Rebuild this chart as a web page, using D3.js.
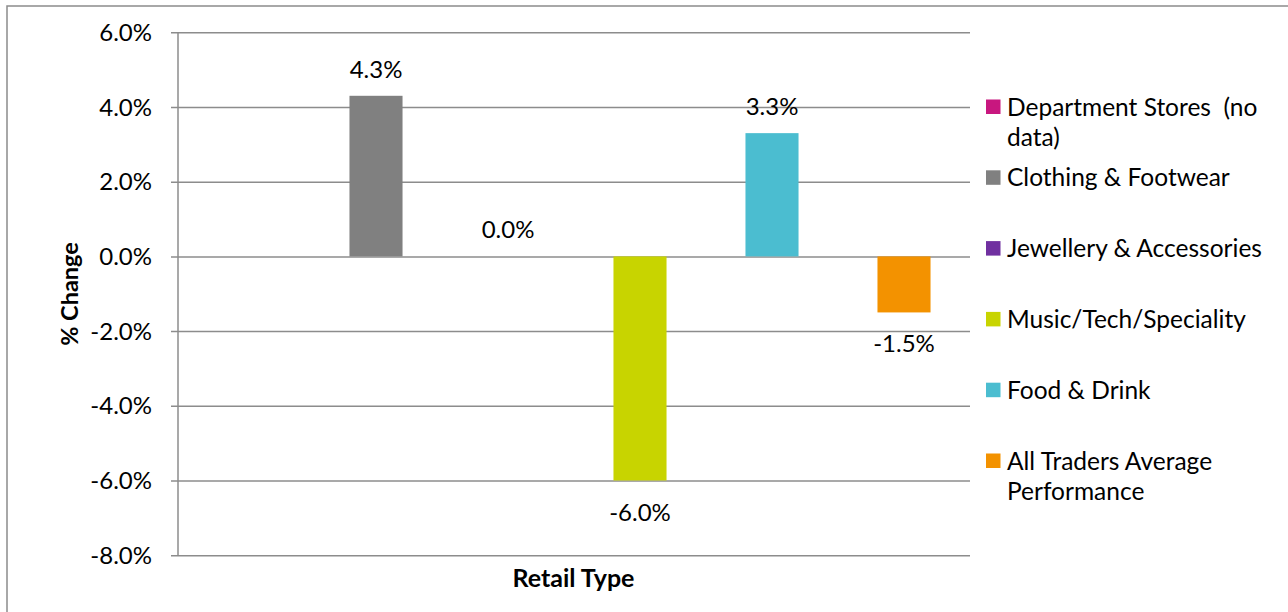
<!DOCTYPE html>
<html>
<head>
<meta charset="utf-8">
<script src="https://cdn.jsdelivr.net/npm/d3@7"></script>
<style>
  html, body { margin: 0; padding: 0; background: #fff; }
  svg { display: block; }
  text { font-family: Lato, "Liberation Sans", sans-serif; fill: #000; }
</style>
</head>
<body>
<svg id="chart" width="1288" height="612"></svg>
<script>
// ---- data ----
const seriesNames = [
  "Department Stores  (no data)",
  "Clothing & Footwear",
  "Jewellery & Accessories",
  "Music/Tech/Speciality",
  "Food & Drink",
  "All Traders Average Performance"
];
const legendLines = [
  ["Department Stores  (no", "data)"],
  ["Clothing & Footwear"],
  ["Jewellery & Accessories"],
  ["Music/Tech/Speciality"],
  ["Food & Drink"],
  ["All Traders Average", "Performance"]
];
const seriesValues = [null, 4.3, 0.0, -6.0, 3.3, -1.5];
const seriesColors = ["#c8177f", "#808080", "#7030a0", "#c8d400", "#4bbdd0", "#f39200"];
const yTicks = [6, 4, 2, 0, -2, -4, -6, -8];
const xTitle = "Retail Type";
const yTitle = "% Change";

// ---- layout ----
const svg = d3.select("#chart");
const plotL = 178, plotR = 970, plotT = 32.3, plotB = 555.2;
const gridColor = "#8c8c8c";

const fmt = d3.formatLocale({decimal: ".", thousands: ",", grouping: [3], currency: ["$", ""], minus: "-", percent: "%"}).format(".1%");

// chart border
svg.append("rect")
  .attr("x", 7).attr("y", 6).attr("width", 1300).attr("height", 700)
  .attr("fill", "none").attr("stroke", gridColor).attr("stroke-width", 1.5);

const y = d3.scaleLinear().domain([-8, 6]).range([plotB, plotT]);
const x = d3.scaleBand().domain(d3.range(seriesNames.length))
  .range([plotL, plotR]).paddingInner(0.598).paddingOuter(0.299);

// y axis with gridlines
const yAxis = d3.axisLeft(y).tickValues(yTicks)
  .tickSizeInner(-(plotR - plotL + 7)).tickSizeOuter(0).tickPadding(19)
  .tickFormat(d => fmt(d / 100));
const gy = svg.append("g").attr("transform", `translate(${plotL - 7},0)`).call(yAxis);
gy.select(".domain").remove();
gy.selectAll(".tick line").attr("stroke", gridColor).attr("stroke-width", 1.5);
gy.selectAll(".tick text").style("font-size", "24px").attr("fill", "#000").attr("dy", "0.34em");

// vertical axis line
svg.append("line")
  .attr("x1", plotL).attr("x2", plotL).attr("y1", y(6)).attr("y2", y(-8))
  .attr("stroke", gridColor).attr("stroke-width", 1.5);

// bars
const barData = seriesValues.map((v, i) => ({i, v})).filter(d => d.v !== null);
svg.append("g").selectAll("rect").data(barData).join("rect")
  .attr("x", d => x(d.i))
  .attr("width", x.bandwidth())
  .attr("y", d => y(Math.max(0, d.v)))
  .attr("height", d => Math.abs(y(d.v) - y(0)))
  .attr("fill", d => seriesColors[d.i]);

// data labels
svg.append("g").selectAll("text").data(barData).join("text")
  .attr("x", d => x(d.i) + x.bandwidth() / 2)
  .attr("y", d => d.v >= 0 ? y(d.v) - 18 : y(d.v) + 40)
  .attr("text-anchor", "middle")
  .style("font-size", "24px")
  .text(d => fmt(d.v / 100));

// axis titles
svg.append("text")
  .attr("x", (plotL + plotR) / 2 - 0.5).attr("y", 587)
  .attr("text-anchor", "middle").style("font-size", "25px").style("font-weight", "bold")
  .text(xTitle);
svg.append("text")
  .attr("transform", "translate(78,294) rotate(-90)")
  .attr("text-anchor", "middle").style("font-size", "23.5px").style("font-weight", "bold")
  .text(yTitle);

// legend
const leg = svg.append("g");
const legTop = 107, legStep = 70.8, lineH = 30;
legendLines.forEach((lines, i) => {
  const cy = legTop + i * legStep;
  leg.append("rect").attr("x", 986).attr("y", cy - 7.5).attr("width", 14.5).attr("height", 14.5)
    .attr("fill", seriesColors[i]);
  const t = leg.append("text").attr("x", 1007).attr("y", cy)
    .style("font-size", "24.5px").style("white-space", "pre");
  lines.forEach((ln, k) => {
    t.append("tspan").attr("x", 1007).attr("y", cy + k * lineH).attr("dy", "0.35em")
      .style("white-space", "pre").text(ln);
  });
});
</script>
</body>
</html>
